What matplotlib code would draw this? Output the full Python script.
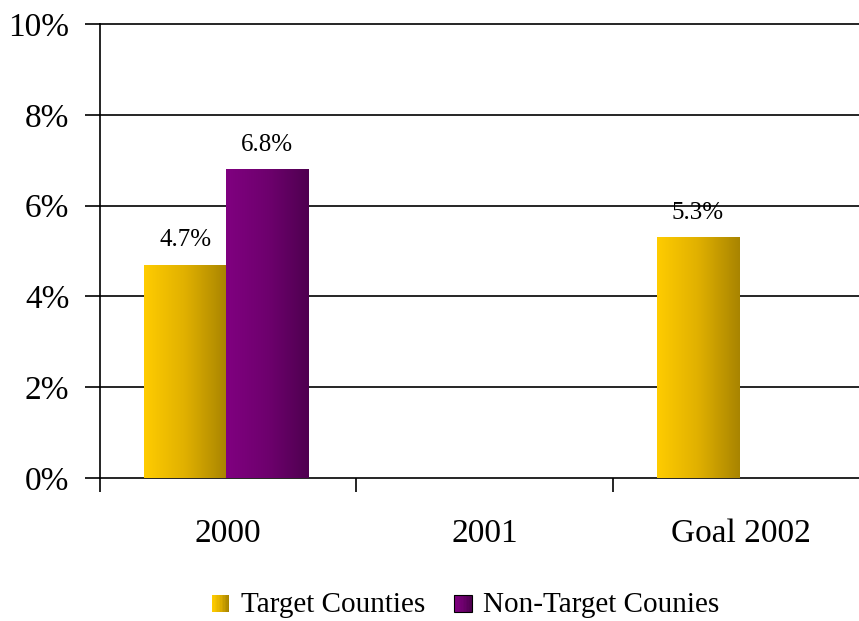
import numpy as np
import matplotlib
matplotlib.use("Agg")
import matplotlib.pyplot as plt
from matplotlib.patches import Rectangle
from matplotlib.legend_handler import HandlerBase
from matplotlib.colors import LinearSegmentedColormap

categories = ["2000", "2001", "Goal 2002"]
target = [4.7, None, 5.3]
non_target = [6.8, None, None]
series_names = ["Target Counties", "Non-Target Counies"]
yticks = [0, 2, 4, 6, 8, 10]

gold = LinearSegmentedColormap.from_list("gold", ["#ffcc00", "#e0b000", "#a88400"])
purple = LinearSegmentedColormap.from_list("purple", ["#800080", "#6e006e", "#4f0050"])

plt.rcParams['font.family'] = ['Liberation Serif', 'DejaVu Serif']

fig = plt.figure(figsize=(8.59, 6.21), dpi=100)
W, H = 859, 621
ax = fig.add_axes([100 / W, (H - 478) / H, 769 / W, 454 / H])

grad = np.linspace(0, 1, 256).reshape(1, -1)


def gradient_bar(ax, x0, w, h, cmap):
    # draw a bar filled with a left-to-right gradient
    rect = Rectangle((x0, 0), w, h, facecolor="none", edgecolor="none")
    ax.add_patch(rect)
    im = ax.imshow(grad, cmap=cmap, aspect="auto", extent=(x0, x0 + w, 0, h),
                   interpolation="bilinear", zorder=3)
    im.set_clip_path(rect)


bw = 0.32
shift = -0.008
x = np.arange(len(categories))
for i in x:
    if target[i] is not None:
        gradient_bar(ax, i - bw + shift, bw, target[i], gold)
        ax.text(i - bw / 2 + shift, target[i] + 0.3, f"{target[i]:.1f}%", ha="center",
                va="bottom", fontsize=18)
    if non_target[i] is not None:
        gradient_bar(ax, i + shift, bw, non_target[i], purple)
        ax.text(i + bw / 2 + shift, non_target[i] + 0.3, f"{non_target[i]:.1f}%",
                ha="center", va="bottom", fontsize=18)

ax.set_xlim(-0.5, 2.5)
ax.set_ylim(0, 10)
ax.set_yticks(yticks)
ax.set_yticklabels([f"{t}%" for t in yticks], fontsize=24)
for t in yticks[1:]:
    ax.axhline(t, color="black", lw=1.2, zorder=1, clip_on=False)

ax.set_xticks([-0.5, 0.5, 1.5, 2.5])
ax.set_xticklabels([])
ax.set_xticks(x, minor=True)
ax.set_xticklabels(categories, minor=True, fontsize=24)
ax.tick_params(axis="x", which="minor", length=0, pad=29)
ax.tick_params(axis="x", which="major", length=10, width=1.2, direction="out")
ax.tick_params(axis="y", length=11, width=1.2, direction="out", pad=11)

for s in ["top", "right"]:
    ax.spines[s].set_visible(False)
ax.spines["left"].set_linewidth(1.2)
ax.spines["bottom"].set_linewidth(1.2)


class GradHandler(HandlerBase):
    def __init__(self, cmap, edge):
        super().__init__()
        self.cmap = cmap
        self.edge = edge

    def create_artists(self, legend, orig_handle, xdescent, ydescent, width, height,
                       fontsize, trans):
        size = height * 0.85
        x0 = -xdescent + (width - size) / 2
        y0 = -ydescent
        arts = []
        n = 12
        for k in range(n):
            r = Rectangle((x0 + k * size / n, y0), size / n + 0.3, size,
                          facecolor=self.cmap(k / (n - 1)), edgecolor="none",
                          transform=trans)
            arts.append(r)
        if self.edge:
            arts.append(Rectangle((x0, y0), size, size, facecolor="none",
                                  edgecolor="black", lw=0.8, transform=trans))
        return arts


h1 = Rectangle((0, 0), 1, 1)
h2 = Rectangle((0, 0), 1, 1)
fig.legend([h1, h2], series_names, loc="lower center", bbox_to_anchor=(0.542, -0.038),
           ncol=2, frameon=False, fontsize=21, handlelength=0.6, handletextpad=0.4,
           columnspacing=1.0,
           handler_map={h1: GradHandler(gold, False), h2: GradHandler(purple, True)})

fig.savefig("out.png", dpi=100)
